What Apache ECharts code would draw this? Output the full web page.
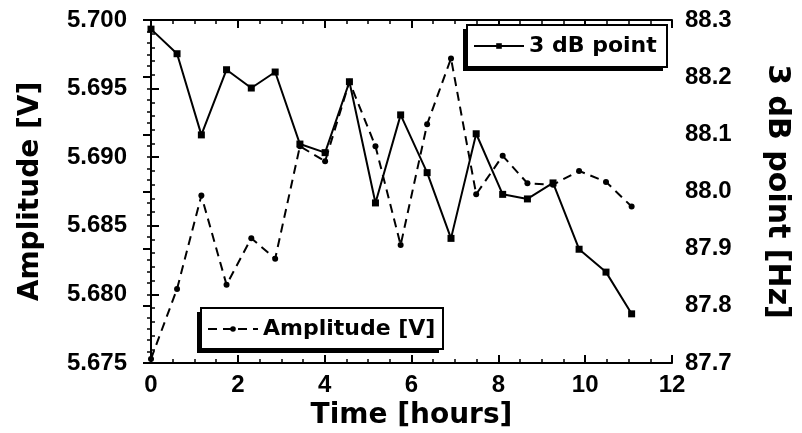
<!DOCTYPE html>
<html>
<head>
<meta charset="utf-8">
<script src="https://cdn.jsdelivr.net/npm/echarts@6/dist/echarts.min.js"></script>
<style>
  html, body { margin: 0; padding: 0; background: #fff; }
  #chart { width: 802px; height: 433px; }
</style>
</head>
<body>
<div id="chart"></div>
<script>
// 数据 - 时间(小时)
const hours = [0, 0.60, 1.16, 1.74, 2.31, 2.86, 3.43, 4.01, 4.57, 5.17,
  5.75, 6.36, 6.91, 7.49, 8.10, 8.67, 9.26, 9.86, 10.48, 11.07];
// 幅值 [V]
const amplitude = [5.6753, 5.6804, 5.6872, 5.6807, 5.6841, 5.6826, 5.6908, 5.6897, 5.6955, 5.6908,
  5.6836, 5.6924, 5.6972, 5.6873, 5.6901, 5.6881, 5.6880, 5.6890, 5.6882, 5.6864];
// 3 dB 点 [Hz]
const dbPoint = [88.284, 88.241, 88.099, 88.213, 88.181, 88.209, 88.083, 88.068, 88.192, 87.980,
  88.134, 88.033, 87.918, 88.101, 87.995, 87.987, 88.015, 87.899, 87.859, 87.786];

const tickFont = { color: '#000', fontFamily: 'Liberation Sans', fontWeight: 'bold', fontSize: 24 };
const titleFont = { color: '#000', fontFamily: 'DejaVu Sans', fontWeight: 'bold', fontSize: 28 };
const legendFont = { color: '#000', fontFamily: 'DejaVu Sans', fontWeight: 'bold', fontSize: 22 };

// 图例框(带左下阴影)
function legendFrame(x, y, w, h) {
  return [
    { type: 'rect', z: 3, shape: { x: x - 4, y: y + 4, width: w, height: h }, style: { fill: '#000' } },
    { type: 'rect', z: 3, shape: { x: x, y: y, width: w, height: h }, style: { fill: '#fff', stroke: '#000', lineWidth: 2 } }
  ];
}

function drawChart() {
  const chartDom = document.getElementById('chart');
  const myChart = echarts.init(chartDom);

  const axisLine = { show: true, lineStyle: { color: '#000', width: 2 } };
  const axisTick = { show: true, inside: true, length: 8, lineStyle: { color: '#000', width: 2 } };
  const minorTick = { show: true, length: 4, lineStyle: { color: '#000', width: 1.5 } };

  const legendBase = {
    orient: 'horizontal',
    padding: 0,
    itemWidth: 50,
    itemHeight: 7,
    itemGap: 0,
    textStyle: legendFont
  };

  const option = {
    animation: false,
    backgroundColor: '#fff',
    grid: { left: 151, right: 130, top: 20, bottom: 70, show: false, outerBoundsMode: 'none' },
    graphic: legendFrame(467, 25, 200, 42).concat(legendFrame(201, 308, 242, 41)),
    legend: [
      Object.assign({}, legendBase, { data: ['3 dB point'], left: 473, top: 35 }),
      Object.assign({}, legendBase, { data: ['Amplitude [V]'], left: 207, top: 318 })
    ],
    xAxis: [
      {
        type: 'value', min: 0, max: 12, interval: 2, position: 'bottom',
        name: 'Time [hours]', nameLocation: 'middle', nameGap: 33, nameTextStyle: titleFont,
        axisLine: axisLine, axisTick: axisTick,
        minorTick: Object.assign({ splitNumber: 4 }, minorTick),
        splitLine: { show: false },
        axisLabel: Object.assign({ margin: 10 }, tickFont)
      },
      {
        type: 'value', min: 0, max: 12, interval: 2, position: 'top',
        axisLine: axisLine, axisTick: axisTick,
        minorTick: Object.assign({ splitNumber: 4 }, minorTick),
        splitLine: { show: false },
        axisLabel: { show: false }
      }
    ],
    yAxis: [
      {
        type: 'value', min: 5.675, max: 5.700, interval: 0.005, position: 'left',
        name: 'Amplitude [V]', nameLocation: 'middle', nameGap: 106, nameTextStyle: titleFont,
        axisLine: axisLine, axisTick: axisTick,
        minorTick: Object.assign({ splitNumber: 5 }, minorTick),
        splitLine: { show: false },
        axisLabel: Object.assign({ margin: 24, formatter: v => v.toFixed(3) }, tickFont)
      },
      {
        type: 'value', min: 87.7, max: 88.3, interval: 0.1, position: 'right',
        name: '3 dB point [Hz]', nameLocation: 'middle', nameGap: 90, nameRotate: -90,
        nameTextStyle: Object.assign({}, titleFont, { fontSize: 30 }),
        axisLine: axisLine, axisTick: axisTick,
        minorTick: Object.assign({ splitNumber: 5 }, minorTick),
        splitLine: { show: false },
        axisLabel: Object.assign({ margin: 13, formatter: v => v.toFixed(1) }, tickFont)
      }
    ],
    series: [
      {
        name: '3 dB point',
        type: 'line',
        xAxisIndex: 0,
        yAxisIndex: 1,
        symbol: 'rect',
        symbolSize: 7,
        itemStyle: { color: '#000' },
        lineStyle: { color: '#000', width: 2 },
        data: hours.map((h, i) => [h, dbPoint[i]])
      },
      {
        name: 'Amplitude [V]',
        type: 'line',
        xAxisIndex: 0,
        yAxisIndex: 0,
        symbol: 'circle',
        symbolSize: 6,
        itemStyle: { color: '#000' },
        lineStyle: { color: '#000', width: 2, type: [9, 6] },
        data: hours.map((h, i) => [h, amplitude[i]])
      }
    ]
  };

  option && myChart.setOption(option);
}

drawChart();
</script>
</body>
</html>
